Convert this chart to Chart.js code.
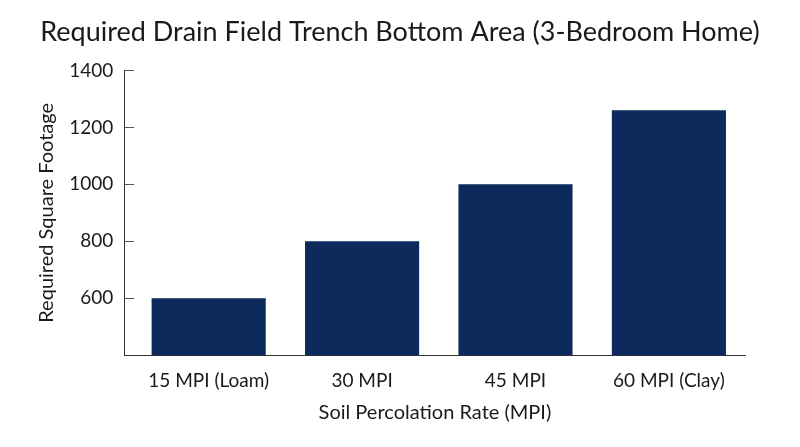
<!DOCTYPE html>
<html>
<head>
<meta charset="utf-8">
<script src="https://cdn.jsdelivr.net/npm/chart.js@4.4.1/dist/chart.umd.min.js"></script>
<style>
  html, body { margin: 0; padding: 0; background: #ffffff; }
  #wrap { width: 800px; height: 447px; position: relative; }
</style>
</head>
<body>
<div id="wrap"><canvas id="c"></canvas></div>
<script>
const categories = ["15 MPI (Loam)", "30 MPI", "45 MPI", "60 MPI (Clay)"];
const squareFootage = [600, 800, 1000, 1260];
const yTickValues = [600, 800, 1000, 1200, 1400];

const FONT = "Lato, 'Open Sans', sans-serif";
const TEXT = "#1a1a1a";
const AXIS = "#333333";

const innerTicks = {
  id: 'innerTicks',
  afterDatasetsDraw(chart) {
    const y = chart.scales.y;
    const ctx = chart.ctx;
    ctx.save();
    ctx.strokeStyle = "#555555";
    ctx.lineWidth = 1;
    yTickValues.forEach(v => {
      const py = Math.round(y.getPixelForValue(v)) + 0.5;
      ctx.beginPath();
      ctx.moveTo(y.right, py);
      ctx.lineTo(y.right + 10, py);
      ctx.stroke();
    });
    ctx.restore();
  }
};

new Chart(document.getElementById('c'), {
  type: 'bar',
  data: {
    datasets: [{
      data: squareFootage.map((v, i) => ({ x: i, y: v })),
      backgroundColor: "#0c2b5c",
      borderWidth: 0,
      categoryPercentage: 1,
      barPercentage: 0.744
    }]
  },
  options: {
    responsive: true,
    maintainAspectRatio: false,
    animation: false,
    layout: { padding: { left: 0, right: 0, top: 0, bottom: 0 } },
    plugins: {
      legend: { display: false },
      tooltip: { enabled: false },
      title: {
        display: true,
        text: "Required Drain Field Trench Bottom Area (3-Bedroom Home)",
        color: TEXT,
        font: { family: FONT, size: 27, weight: 'normal' },
        padding: { top: 16, bottom: 22 }
      }
    },
    scales: {
      x: {
        type: 'linear',
        offset: false,
        min: -0.55,
        max: 3.5,
        grid: { display: false, drawTicks: false, offset: false },
        border: { display: true, color: AXIS, width: 1 },
        afterBuildTicks: (scale) => { scale.ticks = categories.map((_, i) => ({ value: i })); },
        afterFit: (scale) => { scale.height = 91.7; },
        ticks: {
          includeBounds: false,
          autoSkip: false,
          maxRotation: 0,
          color: TEXT,
          padding: 14,
          font: { family: FONT, size: 19 },
          callback: (v) => categories[v]
        },
        title: {
          display: true,
          text: "Soil Percolation Rate (MPI)",
          color: TEXT,
          font: { family: FONT, size: 20 },
          padding: { top: 0, bottom: 22 }
        }
      },
      y: {
        min: 400,
        max: 1400,
        grid: { display: false, drawTicks: false },
        border: { display: true, color: AXIS, width: 1 },
        afterFit: (scale) => { scale.width = 124.3; },
        afterBuildTicks: (scale) => { scale.ticks = yTickValues.map(v => ({ value: v })); },
        ticks: {
          color: TEXT,
          padding: 11,
          font: { family: FONT, size: 19 },
          callback: (v) => String(v)
        },
        title: {
          display: true,
          text: "Required Square Footage",
          color: TEXT,
          font: { family: FONT, size: 20 },
          padding: { top: 35, bottom: 0 }
        }
      },
      yRight: {
        position: 'right',
        display: true,
        min: 400,
        max: 1400,
        grid: { display: false, drawTicks: false },
        border: { display: false },
        ticks: { display: false },
        afterFit: (scale) => { scale.width = 54.4; }
      }
    }
  },
  plugins: [innerTicks]
});
</script>
</body>
</html>
